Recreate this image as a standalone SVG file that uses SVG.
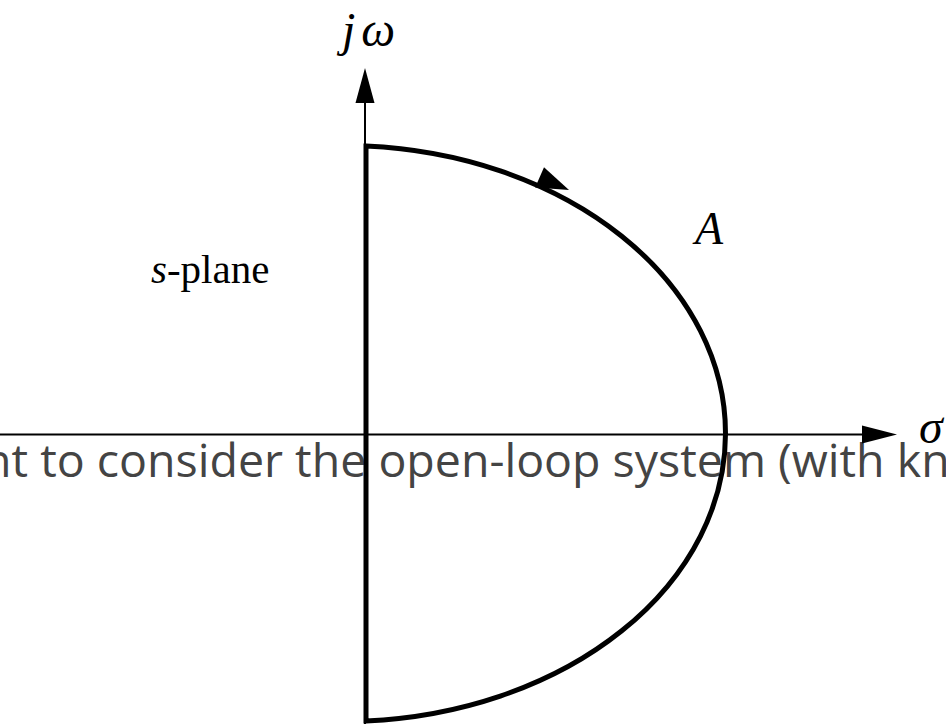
<svg xmlns="http://www.w3.org/2000/svg" width="946" height="724" viewBox="0 0 946 724">
<style>
.math{font-family:"Liberation Serif","Times New Roman",serif;fill:#000}
.it{font-style:italic}
.axis{stroke:#000;stroke-width:2;fill:none}
.contour{stroke:#000;stroke-width:5;fill:none}
.overlay{font-family:"Open Sans","DejaVu Sans",sans-serif;fill:#444;font-size:46.5px}
</style>
<rect width="946" height="724" fill="#fff"/>
<text class="overlay" x="-17" y="477">nt to consider the open-loop system (with kn</text>
<g id="connectors">
<line class="axis" x1="365" y1="100" x2="365" y2="724"/>
<polygon points="365,68 355.5,103 374.5,103" fill="#000"/>
<line class="axis" x1="0" y1="434.5" x2="865" y2="434.5"/>
<polygon points="897,434.5 862,425.5 862,443.5" fill="#000"/>
<path id="contourA" class="contour" d="M366,146 A382,288 0 0 1 366,721 Z"/>
<polygon points="569,190 535.2,187.4 544,167.2" fill="#000"/>
</g>
<g id="label-jw"><text class="math it" x="342" y="46" font-size="48">j<tspan dx="6">ω</tspan></text></g>
<g id="label-A"><text class="math it" x="695" y="244" font-size="46">A</text></g>
<g id="label-splane"><text class="math" x="151" y="283" font-size="41"><tspan class="it">s</tspan>-plane</text></g>
<g id="label-sigma"><text class="math it" x="919" y="443" font-size="48">σ</text></g>
</svg>
